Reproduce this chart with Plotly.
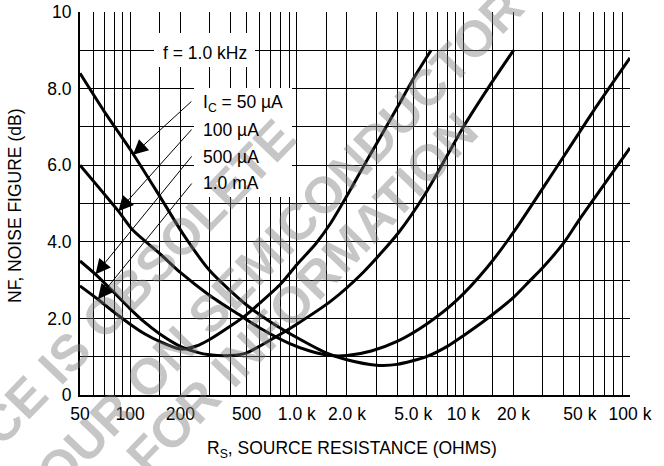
import numpy as np
import plotly.graph_objects as go

# ---- data ----
rs_50uA = [50, 70, 104, 150, 208, 300, 500, 700, 1000, 1500, 2000, 3000, 4000, 6000,
           8000, 10000, 13000, 16000, 20000, 25000, 30000, 40000, 50000, 70000, 100000]
nf_50uA = [8.4, 7.4, 6.3, 5.2, 4.2, 3.25, 2.35, 1.9, 1.5, 1.1, 0.92, 0.78, 0.8, 1.0,
           1.27, 1.55, 1.9, 2.2, 2.55, 2.98, 3.33, 3.97, 4.6, 5.5, 6.45]

rs_100uA = [50, 85, 104, 150, 200, 300, 450, 600, 900, 1200, 1600, 2000, 2800, 4000,
            6000, 9000, 14000, 20000, 30000, 41000, 60000, 100000]
nf_100uA = [6.0, 4.8, 4.3, 3.7, 3.2, 2.6, 2.1, 1.75, 1.35, 1.15, 1.03, 1.03, 1.15, 1.4,
            1.85, 2.45, 3.35, 4.25, 5.4, 6.3, 7.4, 8.8]

rs_500uA = [50, 62, 77, 100, 122, 150, 200, 250, 300, 400, 500, 690, 1000, 1600, 2500,
            4100, 6000, 10000, 14000, 20000]
nf_500uA = [3.5, 3.15, 2.75, 2.25, 1.9, 1.6, 1.27, 1.12, 1.05, 1.03, 1.1, 1.43, 1.85,
            2.45, 3.2, 4.25, 5.3, 7.0, 8.0, 9.0]

rs_1mA = [50, 64, 77, 100, 122, 150, 200, 250, 300, 400, 500, 600, 800, 1000, 1300,
          1600, 2000, 2500, 3000, 4000, 5000, 6400]
nf_1mA = [2.85, 2.5, 2.22, 1.85, 1.6, 1.4, 1.2, 1.28, 1.45, 1.8, 2.1, 2.4, 2.9, 3.4,
          3.95, 4.49, 5.2, 5.95, 6.55, 7.5, 8.25, 9.0]

series_labels = ["I<sub>C</sub> = 50 \u00b5A", "100 \u00b5A", "500 \u00b5A", "1.0 mA"]
# arrow head points on each curve (Rs, NF)
arrow_rs = [104, 85, 62, 64]
arrow_nf = [6.27, 4.8, 3.15, 2.5]

x_grid = [50, 60, 70, 80, 90,
          100, 150, 200, 300, 400, 500, 600, 700, 800, 900,
          1000, 1500, 2000, 3000, 4000, 5000, 6000, 7000, 8000, 9000,
          10000, 15000, 20000, 30000, 40000, 50000, 60000, 70000, 80000, 90000,
          100000]
x_labels = {50: "50", 100: "100", 200: "200", 500: "500", 1000: "1.0 k", 2000: "2.0 k",
            5000: "5.0 k", 10000: "10 k", 20000: "20 k", 50000: "50 k", 100000: "100 k"}
y_grid = [0, 1, 2, 3, 4, 5, 6, 7, 8, 9, 10]
y_labels = {0: "0", 2: "2.0", 4: "4.0", 6: "6.0", 8: "8.0", 10: "10"}

watermark_lines = ["THIS DEVICE IS OBSOLETE",
                   "CONTACT YOUR ON SEMICONDUCTOR",
                   "REPRESENTATIVE FOR INFORMATION"]

FONT = "Liberation Sans, Arial, sans-serif"
FS = 17.5

L, R, T, B = 80, 630, 12, 395   # plot area in pixels
W, H = R - L, B - T


def px(x):
    return (x - L) / W


def py(y):
    return (B - y) / H


fig = go.Figure()
for rs, nf in [(rs_50uA, nf_50uA), (rs_100uA, nf_100uA), (rs_500uA, nf_500uA), (rs_1mA, nf_1mA)]:
    fig.add_trace(go.Scatter(x=rs, y=nf, mode="lines",
                             line=dict(color="black", width=3, shape="spline", smoothing=0.7),
                             showlegend=False, hoverinfo="skip"))

annotations = []

# watermark
wm_color = "rgba(120,120,120,0.42)"
wm_pos = [(50, 372), (178, 345), (139, 462)]
for t, (cx, cy) in zip(watermark_lines, wm_pos):
    annotations.append(dict(text="<b>" + t + "</b>", xref="paper", yref="paper",
                            x=px(cx), y=py(cy), xanchor="center", yanchor="middle",
                            showarrow=False, textangle=-46,
                            font=dict(family=FONT, size=51, color=wm_color)))

# white boxes behind the labels (shapes above the grid)
shapes = [
    dict(type="rect", xref="paper", yref="paper", x0=px(154), x1=px(255), y0=py(67), y1=py(33),
         fillcolor="white", line=dict(width=0), layer="above"),
    dict(type="rect", xref="paper", yref="paper", x0=px(194), x1=px(292), y0=py(197), y1=py(88),
         fillcolor="white", line=dict(width=0), layer="above"),
]

annotations.append(dict(text="f = 1.0 kHz", xref="paper", yref="paper", x=px(204.5), y=py(53),
                        xanchor="center", yanchor="middle", showarrow=False,
                        font=dict(family=FONT, size=FS, color="black")))

row_y = [104, 130, 157, 183]
for lab, ry in zip(series_labels, row_y):
    annotations.append(dict(text=lab, xref="paper", yref="paper", x=px(201), y=py(ry),
                            xanchor="left", yanchor="middle", showarrow=False,
                            font=dict(family=FONT, size=FS, color="black")))

tail_y = [7.70, 6.97, 6.27, 5.56]
for hx, hy, ty in zip(arrow_rs, arrow_nf, tail_y):
    annotations.append(dict(text="", x=np.log10(hx), y=hy, xref="x", yref="y",
                            ax=np.log10(238), ay=ty, axref="x", ayref="y",
                            showarrow=True, arrowhead=2, arrowsize=3, arrowwidth=1,
                            arrowcolor="black", standoff=0))

# axis titles
annotations.append(dict(text="NF, NOISE FIGURE (dB)", xref="paper", yref="paper",
                        x=px(15), y=py(206), xanchor="center", yanchor="middle",
                        textangle=-90, showarrow=False,
                        font=dict(family=FONT, size=FS, color="black")))
annotations.append(dict(text="R<sub>S</sub>, SOURCE RESISTANCE (OHMS)", xref="paper", yref="paper",
                        x=px(352), y=py(449), xanchor="center", yanchor="middle", showarrow=False,
                        font=dict(family=FONT, size=FS, color="black")))

fig.update_layout(
    width=664, height=466,
    margin=dict(l=L, r=664 - R, t=T, b=466 - B, autoexpand=False),
    paper_bgcolor="white", plot_bgcolor="white",
    font=dict(family=FONT, size=FS, color="black"),
    annotations=annotations,
    shapes=shapes,
    showlegend=False,
)
fig.update_xaxes(type="log", range=[np.log10(50), np.log10(100000)],
                 tickmode="array", tickvals=x_grid,
                 ticktext=[x_labels.get(v, "") for v in x_grid],
                 showgrid=True, gridcolor="black", gridwidth=1,
                 showline=True, linecolor="black", linewidth=2,
                 ticks="", zeroline=False, ticklabelstandoff=2, automargin=False,
                 tickfont=dict(family=FONT, size=FS, color="black"))
fig.update_yaxes(range=[0, 10], tickmode="array", tickvals=y_grid,
                 ticktext=[y_labels.get(v, "") for v in y_grid],
                 showgrid=True, gridcolor="black", gridwidth=1,
                 showline=True, linecolor="black", linewidth=2,
                 ticks="", zeroline=False, ticklabelstandoff=3, automargin=False,
                 tickfont=dict(family=FONT, size=FS, color="black"))

fig.write_html("out.html", config={"displayModeBar": False},
               post_script="document.body.style.margin='0px';")
